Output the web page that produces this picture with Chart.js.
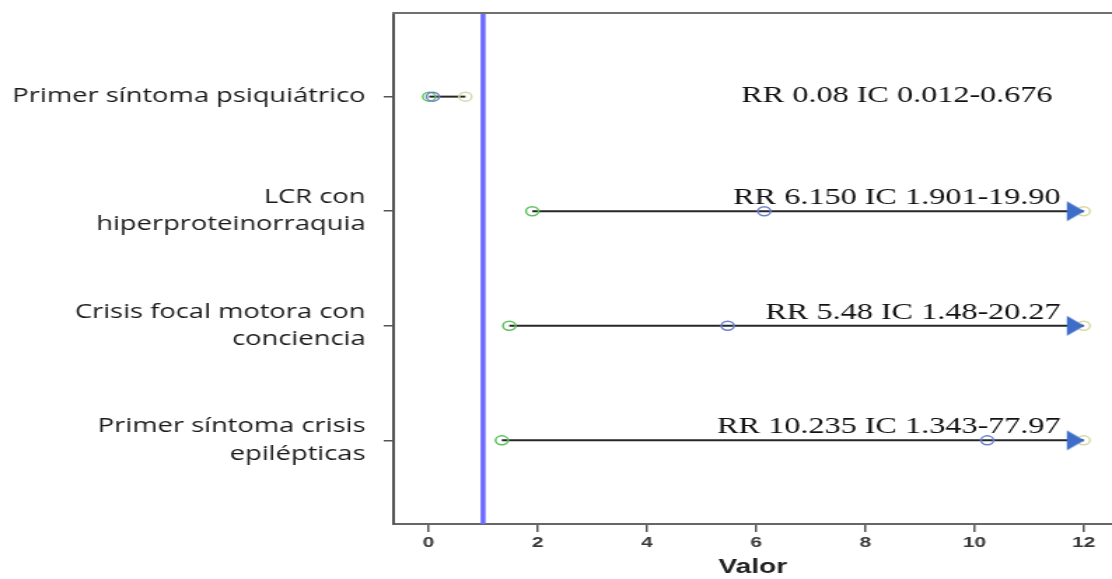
<!DOCTYPE html>
<html>
<head>
<meta charset="utf-8">
<script src="https://cdn.jsdelivr.net/npm/chart.js@4"></script>
<style>
  html, body { margin: 0; padding: 0; background: #ffffff; }
  #c { display: block; width: 1112px; height: 579px; }
</style>
</head>
<body>
<canvas id="c" width="794" height="579" style="width:1112px;height:579px"></canvas>
<script>
// ---- data ----
const categories = [
  'Primer síntoma psiquiátrico',
  ['LCR con', 'hiperproteinorraquia'],
  ['Crisis focal motora con', 'conciencia'],
  ['Primer síntoma crisis', 'epilépticas']
];
const rrText   = ['0.08',  '6.150', '5.48',  '10.235'];
const lowText  = ['0.012', '1.901', '1.48',  '1.343'];
const highText = ['0.676', '19.90', '20.27', '77.97'];
const xTicks = [0, 2, 4, 6, 8, 10, 12];
const refValue = 1;     // vertical reference line (RR = 1)
const axisCap = 12;     // upper limit drawn; beyond it an arrow is shown
const xTitle = 'Valor';

const rr = rrText.map(Number);
const low = lowText.map(Number);
const high = highText.map(Number);

// ---- styling ----
const Y_MIN = -0.73, Y_MAX = 3.73;
const X_MIN = -0.64, X_MAX = 12.52;

// arrow marker image (triangle pointing right, tip at image centre)
const arrowImg = document.createElement('canvas');
arrowImg.width = 26; arrowImg.height = 22;
(function () {
  const g = arrowImg.getContext('2d');
  g.fillStyle = '#3d6dc8';
  g.beginPath();
  g.moveTo(1, 1);
  g.lineTo(13.5, 11);
  g.lineTo(1, 21);
  g.closePath();
  g.fill();
})();

const datasets = [];
// reference line
datasets.push({
  type: 'line',
  data: [{x: refValue, y: Y_MIN}, {x: refValue, y: Y_MAX}],
  borderColor: '#6a6aff',
  borderWidth: 3.5,
  pointRadius: 0,
  order: 10
});
// confidence interval segments
categories.forEach((c, i) => {
  datasets.push({
    type: 'line',
    data: [{x: low[i], y: i}, {x: Math.min(high[i], axisCap), y: i}],
    borderColor: '#262626',
    borderWidth: 2,
    pointRadius: 0,
    order: 8
  });
});
const circ = (vals, color, ord) => ({
  type: 'scatter',
  data: vals.map((v, i) => ({x: Math.min(v, axisCap), y: i})),
  pointStyle: 'circle',
  pointRadius: 4.5,
  pointBorderWidth: 1.5,
  borderColor: color,
  backgroundColor: 'rgba(0,0,0,0)',
  pointBackgroundColor: 'rgba(0,0,0,0)',
  order: ord
});
datasets.push(circ(high, '#d9d9a6', 6));
datasets.push(circ(low, '#5cc25c', 5));
datasets.push(circ(rr, '#6d80cc', 4));
// arrows where the interval exceeds the axis
datasets.push({
  type: 'scatter',
  data: high.map((v, i) => v > axisCap ? {x: axisCap, y: i} : null).filter(Boolean),
  pointStyle: arrowImg,
  pointRadius: 11,
  order: 0
});

const decor = {
  id: 'decor',
  afterDatasetsDraw(chart) {
    const {ctx, chartArea: a, scales: {x, y}} = chart;
    ctx.save();
    // top frame line
    ctx.strokeStyle = '#707070';
    ctx.lineWidth = 2;
    ctx.beginPath();
    ctx.moveTo(a.left - 1, a.top);
    ctx.lineTo(a.right, a.top);
    ctx.stroke();
    // annotations
    ctx.fillStyle = '#111111';
    ctx.font = '23px "Liberation Serif", "Times New Roman", serif';
    categories.forEach((c, i) => {
      const txt = 'RR ' + rrText[i] + ' IC ' + lowText[i] + '-' + highText[i];
      const py = y.getPixelForValue(i);
      if (high[i] > axisCap) {
        ctx.textAlign = 'right';
        ctx.textBaseline = 'alphabetic';
        ctx.fillText(txt, x.getPixelForValue(11.58), py - 7);
      } else {
        ctx.textAlign = 'center';
        ctx.textBaseline = 'middle';
        ctx.fillText(txt, x.getPixelForValue(8.58), py - 1);
      }
    });
    ctx.restore();
  }
};

new Chart(document.getElementById('c'), {
  data: {datasets},
  options: {
    responsive: false,
    animation: false,
    devicePixelRatio: 1,
    layout: {autoPadding: false, padding: {top: 13, left: 0, right: 0, bottom: 0}},
    plugins: {legend: {display: false}, tooltip: {enabled: false}},
    scales: {
      x: {
        type: 'linear',
        min: X_MIN,
        max: X_MAX,
        afterBuildTicks: s => { s.ticks = xTicks.map(v => ({value: v})); },
        afterFit: s => { s.height = 55; s.paddingLeft = 0; s.paddingRight = 0; s.paddingTop = 0; s.paddingBottom = 0; },
        grid: {drawOnChartArea: false, drawTicks: true, tickLength: 8, color: '#555555', lineWidth: 1.5},
        border: {color: '#666666', width: 2},
        ticks: {
          padding: 2,
          color: '#3a3a3a',
          font: {family: '"Liberation Sans", Arial, sans-serif', size: 15, weight: 'bold'}
        },
        title: {
          display: true,
          text: xTitle,
          color: '#222222',
          padding: {top: 0, bottom: 0},
          font: {family: '"Liberation Sans", Arial, sans-serif', size: 20, weight: 'bold'}
        }
      },
      y: {
        type: 'linear',
        reverse: true,
        min: Y_MIN,
        max: Y_MAX,
        afterBuildTicks: s => { s.ticks = categories.map((c, i) => ({value: i})); },
        afterFit: s => { s.width = 281; s.paddingTop = 0; s.paddingBottom = 0; s.paddingLeft = 0; s.paddingRight = 0; },
        grid: {drawOnChartArea: false, drawTicks: true, tickLength: 7, color: '#555555', lineWidth: 1.5},
        border: {color: '#555555', width: 2},
        ticks: {
          padding: 13,
          color: '#1a1a1a',
          font: {family: '"Open Sans", sans-serif', size: 19.5, lineHeight: 1.4},
          callback: v => categories[v]
        }
      }
    }
  },
  plugins: [decor]
});
</script>
</body>
</html>
